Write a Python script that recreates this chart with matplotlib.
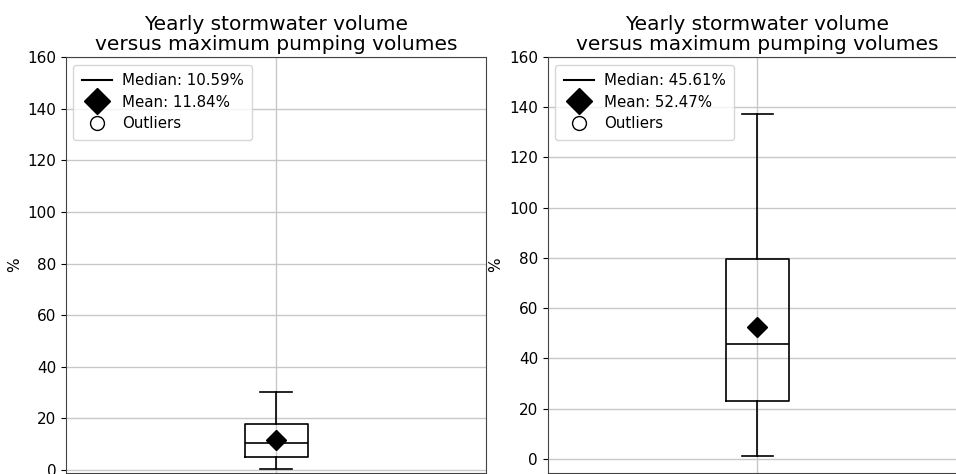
import matplotlib
matplotlib.use("Agg")
import matplotlib.pyplot as plt
from matplotlib.lines import Line2D

# box statistics (percent)
titles = ["Yearly stormwater volume\nversus maximum pumping volumes"] * 2
medians = [10.59, 45.61]
means = [11.84, 52.47]
q1 = [5.2, 23.0]
q3 = [18.0, 79.5]
whislo = [0.3, 1.0]
whishi = [30.3, 137.5]
ylims = [(-1.0, 160), (-5.5, 160)]

fig = plt.figure(figsize=(9.56, 4.74), dpi=100)
positions = [[0.069, 0.0027, 0.4395, 0.877], [0.573, 0.0027, 0.4385, 0.877]]

for i in range(2):
    ax = fig.add_axes(positions[i])
    stats = [{
        "med": medians[i], "q1": q1[i], "q3": q3[i],
        "whislo": whislo[i], "whishi": whishi[i],
        "mean": means[i], "fliers": [],
    }]
    ax.bxp(stats, showmeans=True, widths=0.15,
           boxprops=dict(color="black", linewidth=1.2),
           medianprops=dict(color="black", linewidth=1.2),
           whiskerprops=dict(color="black", linewidth=1.2),
           capprops=dict(color="black", linewidth=1.2),
           meanprops=dict(marker="D", markerfacecolor="black",
                          markeredgecolor="black", markersize=10))
    ax.set_ylim(*ylims[i])
    ax.set_yticks(range(0, 161, 20))
    ax.set_xticklabels([])
    ax.grid(True, color="#c8c8c8", linewidth=1)
    ax.set_axisbelow(True)
    ax.set_ylabel("%", fontsize=11)
    ax.set_title(titles[i], fontsize=14.5, linespacing=1.1, pad=5)
    ax.tick_params(labelsize=11)
    for s in ax.spines.values():
        s.set_color("#444444")

    handles = [
        Line2D([], [], color="black", linewidth=1.5),
        Line2D([], [], color="black", marker="D", linestyle="None", markersize=13),
        Line2D([], [], color="black", marker="o", markerfacecolor="white",
               linestyle="None", markersize=10, markeredgewidth=1),
    ]
    labels = [f"Median: {medians[i]:.2f}%", f"Mean: {means[i]:.2f}%", "Outliers"]
    ax.legend(handles, labels, loc="upper left", fontsize=10.8,
              handletextpad=0.7, labelspacing=0.45, borderpad=0.55)

fig.savefig("out.png", dpi=100)
